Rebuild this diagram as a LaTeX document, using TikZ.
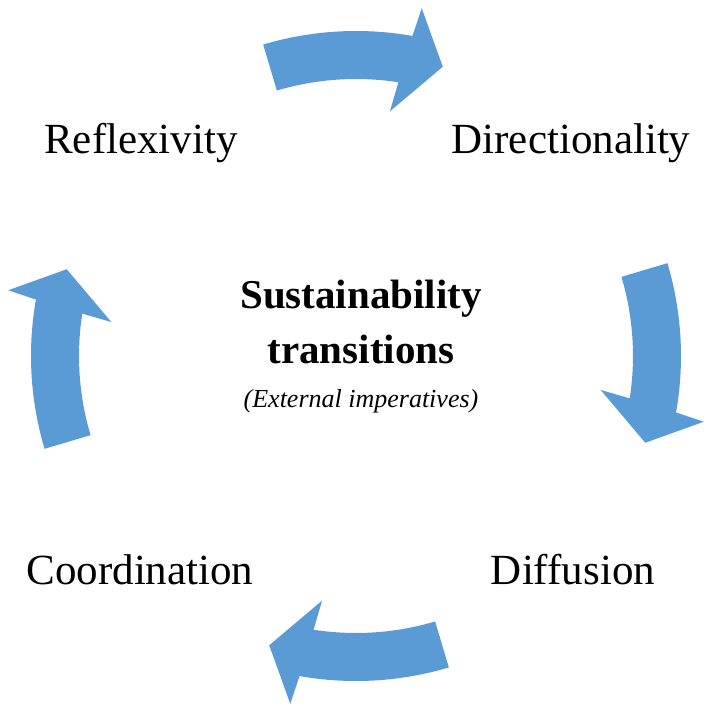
\documentclass[tikz,border=0pt]{standalone}
\usepackage{fontspec}
\setmainfont{Liberation Serif}
\usepackage{tikz}
\usetikzlibrary{positioning}
\definecolor{cycleblue}{RGB}{91,155,213}
\tikzset{
    % curved block arrow of the cycle
    cyclearrow/.style={
           fill=cycleblue,
           draw=none},
    % corner labels
    stage/.style={
           anchor=base,
           inner sep=0pt,
           font=\fontsize{43}{50}\selectfont},
    title/.style={
           anchor=base,
           inner sep=0pt,
           font=\fontsize{41}{48}\selectfont\bfseries},
    subtitle/.style={
           anchor=base,
           inner sep=0pt,
           font=\fontsize{26}{30}\selectfont\itshape}
}
\begin{document}
\begin{tikzpicture}[x=1pt,y=1pt]
\useasboundingbox (-356,-357) rectangle (357,356);
 %arrows
\foreach \rot in {0,-90,-180,-270}{
  \fill[cyclearrow, rotate=\rot] (106.6:325) arc[start angle=106.6, end angle=80, radius=325]
      -- (79.3:354) -- (73.3:302) -- (82.1:247) -- (81.2:277)
      arc[start angle=81.2, end angle=106.6, radius=277] -- cycle;
}
 %labels
\node[stage] (refl) at (-215,203) {Reflexivity};
\node[stage] (dir) at (215,203) {Directionality};
\node[stage] (coord) at (-216,-228) {Coordination};
\node[stage] (diff) at (217,-228) {Diffusion};
\node[title] (sust) at (5,48) {Sustainability};
\node[title] (trans) at (5,-7) {transitions};
\node[subtitle] (ext) at (5,-51) {(External imperatives)};
\end{tikzpicture}
\end{document}
